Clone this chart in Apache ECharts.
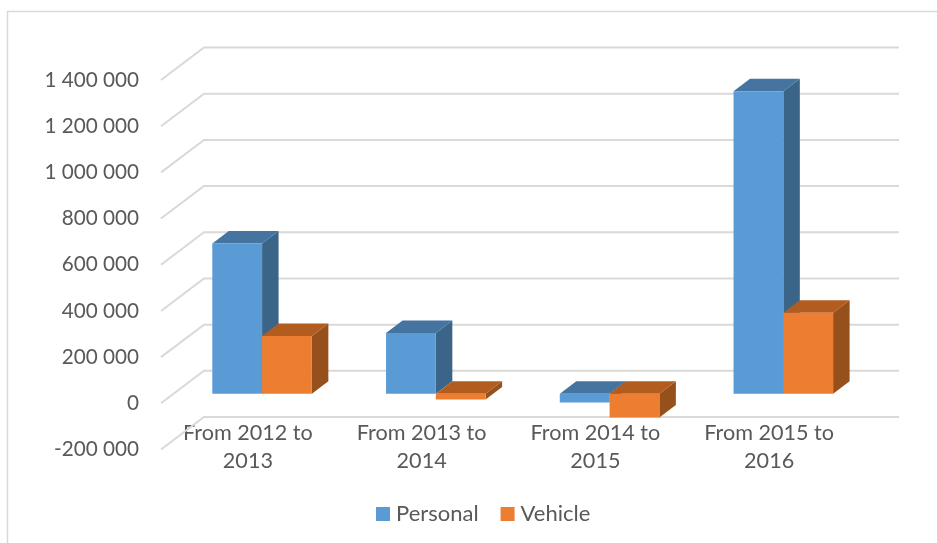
<!DOCTYPE html>
<html>
<head>
<meta charset="utf-8">
<style>html,body{margin:0;padding:0;background:#fff}#c{width:937px;height:543px}</style>
<script src="https://cdn.jsdelivr.net/npm/echarts@6/dist/echarts.min.js"></script>
</head>
<body>
<div id="c"></div>
<script>
var categories = ['From 2012 to 2013', 'From 2013 to 2014', 'From 2014 to 2015', 'From 2015 to 2016'];
var personal = [650000, 263000, -38000, 1310000];
var vehicle = [250000, -25000, -103000, 351000];
var yTicks = [-200000, 0, 200000, 400000, 600000, 800000, 1000000, 1200000, 1400000];

var FONT = 'Lato, Carlito, sans-serif';
var TEXT = '#595959';
var WALL = {dx: 43, dy: -32.5};
var PLANE = {dx: 14.2, dy: -9.6};
var DEPTH = {dx: 16.5, dy: -12.5};
var BAR_RATIO = 0.2865;

function poly(points, fill) {
  return {type: 'polygon', shape: {points: points}, style: {fill: fill}};
}
function barRenderer(slot, front, top, side) {
  return function (params, api) {
    var band = api.size([1, 0])[0];
    var w = band * BAR_RATIO;
    var c0 = api.coord([api.value(0), 0]);
    var c1 = api.coord([api.value(0), api.value(1)]);
    var x0 = c0[0] + PLANE.dx + slot * w;
    var x1 = x0 + w;
    var yT = Math.min(c0[1], c1[1]) + PLANE.dy;
    var yB = Math.max(c0[1], c1[1]) + PLANE.dy;
    var d = DEPTH;
    return {type: 'group', children: [
      poly([[x1, yT], [x1 + d.dx, yT + d.dy], [x1 + d.dx, yB + d.dy], [x1, yB]], side),
      poly([[x0, yT], [x0 + d.dx, yT + d.dy], [x1 + d.dx, yT + d.dy], [x1, yT]], top),
      poly([[x0, yT], [x1, yT], [x1, yB], [x0, yB]], front)
    ]};
  };
}
function gridRenderer(params, api) {
  var cs = params.coordSys;
  var p = api.coord([0, api.value(0)]);
  return {type: 'polyline', shape: {points: [
    [cs.x, p[1]], [cs.x + WALL.dx, p[1] + WALL.dy], [cs.x + WALL.dx + cs.width, p[1] + WALL.dy]
  ]}, style: {fill: null, stroke: '#d9d9d9', lineWidth: 2}};
}
var chart = echarts.init(document.getElementById('c'), null, {renderer: 'canvas'});
chart.setOption({
  animation: false,
  backgroundColor: '#fff',
  textStyle: {fontFamily: FONT},
  graphic: [
    {type: 'polyline', silent: true, shape: {points: [[7.5, 543], [7.5, 11.5], [937, 11.5]]},
     style: {fill: null, stroke: '#d9d9d9', lineWidth: 1.5}}
  ],
  grid: {left: 161, top: 80, width: 695, height: 369.5, containLabel: false},
  legend: {
    left: 371, top: 498, itemWidth: 14, itemHeight: 14, itemGap: 22, icon: 'rect',
    data: ['Personal', 'Vehicle'],
    textStyle: {color: TEXT, fontSize: 22, fontFamily: FONT, padding: [0, 0, 2, 1]}
  },
  xAxis: {
    type: 'category', data: categories,
    axisLine: {show: false}, axisTick: {show: false}, splitLine: {show: false},
    axisLabel: {
      interval: 0, color: TEXT, fontSize: 21.6, fontFamily: FONT, lineHeight: 28, margin: -30,
      formatter: function (v) { return v.replace(/ (\d{4})$/, '\n$1'); }
    }
  },
  yAxis: {
    type: 'value', min: -200000, max: 1400000, interval: 200000,
    axisLine: {show: false}, axisTick: {show: false}, splitLine: {show: false},
    axisLabel: {
      color: TEXT, fontSize: 20.7, fontFamily: FONT, margin: 22, padding: [4, 0, 0, 0],
      formatter: function (v) { return String(v).replace(/\B(?=(\d{3})+$)/g, ' '); }
    }
  },
  series: [
    {name: 'gridlines', type: 'custom', renderItem: gridRenderer, clip: false, silent: true,
     data: yTicks.map(function (v) { return [v]; }), encode: {y: 0}, z: 1},
    {name: 'Personal', type: 'custom', clip: false, z: 2,
     itemStyle: {color: '#5B9BD5'},
     renderItem: barRenderer(-1, '#5B9BD5', '#44749F', '#3A6488'),
     data: personal.map(function (v, i) { return [i, v]; }), encode: {x: 0, y: 1}},
    {name: 'Vehicle', type: 'custom', clip: false, z: 3,
     itemStyle: {color: '#ED7D31'},
     renderItem: barRenderer(0, '#ED7D31', '#B35C20', '#95501B'),
     data: vehicle.map(function (v, i) { return [i, v]; }), encode: {x: 0, y: 1}}
  ]
});
</script>
</body>
</html>
